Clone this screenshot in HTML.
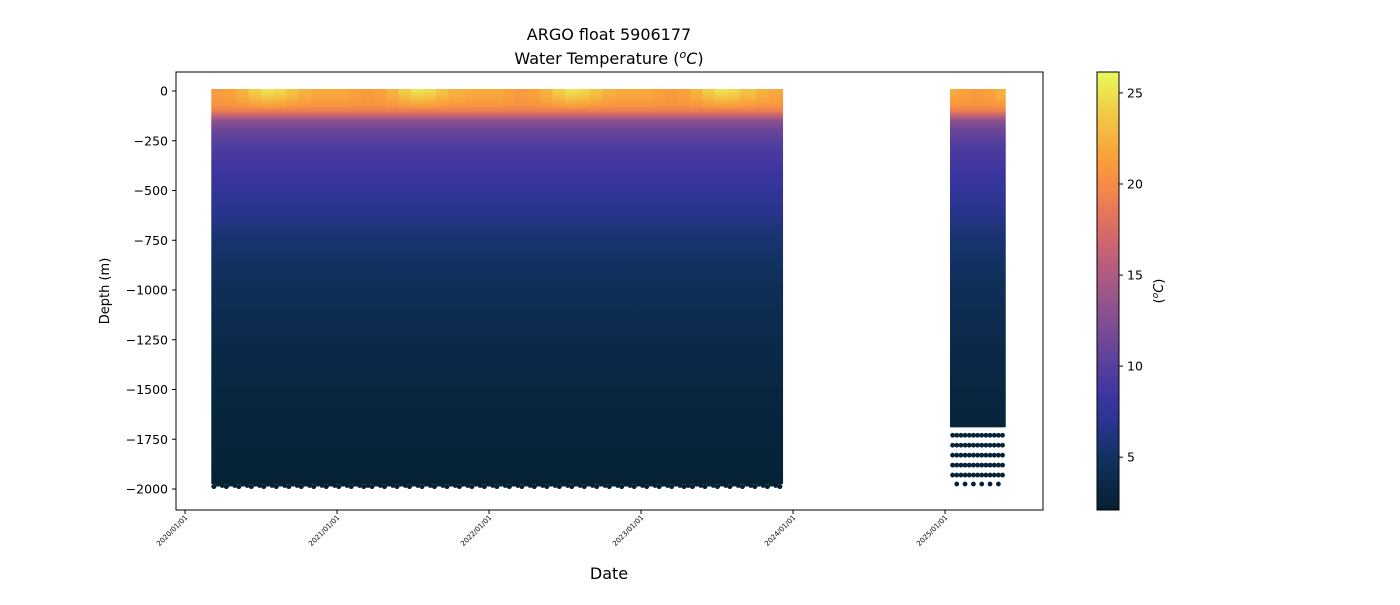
<!DOCTYPE html>
<html><head><meta charset="utf-8"><style>
body{margin:0;background:#fff;font-family:"Liberation Sans","DejaVu Sans",sans-serif}
svg text{font-family:"DejaVu Sans","Liberation Sans",sans-serif;fill:#000}
</style></head><body>
<svg id="c" width="1400" height="600" xmlns="http://www.w3.org/2000/svg">
<defs id="defs"></defs>
<text x="609" y="40" font-size="16" text-anchor="middle">ARGO float 5906177</text>
<text x="609" y="64" font-size="16" text-anchor="middle">Water Temperature (<tspan font-style="italic" font-size="11" dy="-6">o</tspan><tspan font-style="italic" dy="6">C</tspan>)</text>
<g id="plot"></g>
<rect x="176" y="72" width="867" height="438" fill="none" stroke="#000" stroke-width="1"/>
<g id="axes"></g>
<text x="0" y="0" font-size="13" text-anchor="middle" transform="translate(109,291) rotate(-90)">Depth (m)</text>
<text x="609" y="579" font-size="16" text-anchor="middle">Date</text>
<g id="cbar"></g>
<text x="0" y="0" font-size="13" text-anchor="middle" transform="translate(1163,291) rotate(-90)">(<tspan font-style="italic" font-size="9" dy="-5">o</tspan><tspan font-style="italic" dy="5">C</tspan>)</text>
</svg>
<script>
const NS="http://www.w3.org/2000/svg";
// data
const segStarts=[2020.19,2025.05];
const segEnds=[2023.92,2025.38];
const cycleDays=10;
const depthLevels=[0,-25,-50,-75,-100,-125,-150,-200,-250,-300,-400,-500,-600,-750,-900,-1000,-1250,-1500,-1750,-2000];
const meanTemps=[22,21.8,21.3,20.5,19,16,13,11,10,9.3,8.4,7.6,6.8,5.5,4.8,4.3,3.7,3.1,2.7,2.3];
const monthSurface=[22,21.5,21,21.5,22.5,24,25,24.5,23.5,22.5,22,22];
const segBottom=[-1975,-1690];
const dotDepths=[-1730,-1780,-1830,-1880,-1930];
const lastDotDepth=-1975;
const yTicks=[0,-250,-500,-750,-1000,-1250,-1500,-1750,-2000];
const xTickYears=[2020,2021,2022,2023,2024,2025];
const xTickLabels=["2020/01/01","2021/01/01","2022/01/01","2023/01/01","2024/01/01","2025/01/01"];
const cbTicks=[5,10,15,20,25];
const cmin=2.1,cmax=26.15;
const cmapStops=[[0,"#04202f"],[0.12,"#113262"],[0.2,"#2a3590"],[0.26,"#3c35a0"],[0.33,"#583f9c"],[0.45,"#8a5190"],[0.55,"#b45c80"],[0.65,"#dc6e62"],[0.72,"#f3834c"],[0.8,"#fa9e3c"],[0.9,"#f2c845"],[1,"#e8fa5b"]];
// scales
const y=d=>91+(-d)*398/2000;
const x=yr=>185+(yr-2020)*152;
function hex(h){return [1,3,5].map(i=>parseInt(h.substr(i,2),16));}
function cmap(v){let t=Math.max(0,Math.min(1,(v-cmin)/(cmax-cmin)));
 for(let i=1;i<cmapStops.length;i++){if(t<=cmapStops[i][0]){const a=cmapStops[i-1],b=cmapStops[i];const f=(t-a[0])/(b[0]-a[0]);const ca=hex(a[1]),cb=hex(b[1]);return "rgb("+ca.map((c,k)=>Math.round(c+(cb[k]-c)*f)).join(",")+")";}}
 return cmapStops[cmapStops.length-1][1];}
function el(t,a,p){const e=document.createElementNS(NS,t);for(const k in a)e.setAttribute(k,a[k]);p.appendChild(e);return e;}
const defs=document.getElementById('defs'),plot=document.getElementById('plot'),axes=document.getElementById('axes'),cbar=document.getElementById('cbar');
monthSurface.forEach((s,m)=>{
 const g=el('linearGradient',{id:'g'+m,gradientUnits:'userSpaceOnUse',x1:0,x2:0,y1:y(0),y2:y(-2000)},defs);
 depthLevels.forEach((d,i)=>{let v=meanTemps[i];if(i<4)v+= (s-meanTemps[0])*(1-i/4);
  el('stop',{offset:(-d/2000).toFixed(4),'stop-color':cmap(v)},g);});
});
const step=cycleDays/365.25;
segStarts.forEach((s0,si)=>{
 const bot=segBottom[si];
 for(let t=s0;t<=segEnds[si]+1e-6;t+=step){
  const m=Math.floor((t-Math.floor(t))*12)%12;
  const px=x(t);
  const r=el('rect',{x:px-2.6,y:y(0)-2,width:5.8,height:y(bot)-y(0)+2,fill:'url(#g'+m+')'},plot);
  
  
  if(si===0){const c=el('circle',{cx:px,cy:y(bot)+(Math.round(t*37)%3)*1.2,r:2.6,fill:cmap(2.3)},plot);
   
   }
  else{dotDepths.forEach(d=>{const c=el('circle',{cx:px,cy:y(d),r:2.4,fill:cmap(2.6)},plot);
    
    });}
 }
 if(si===1){for(let t=s0+step;t<=segEnds[si];t+=step*2){const c=el('circle',{cx:x(t),cy:y(lastDotDepth),r:2.4,fill:cmap(2.5)},plot);
  
  }}
});
yTicks.forEach(v=>{el('line',{x1:172,x2:176,y1:y(v),y2:y(v),stroke:'#000'},axes);
 const tx=el('text',{x:168,y:y(v)+4.5,'font-size':12.5,'text-anchor':'end'},axes);tx.textContent=v===0?'0':'\u2212'+(-v);
 
 });
xTickYears.forEach((yr,i)=>{const px=x(yr);el('line',{x1:px,x2:px,y1:510,y2:514,stroke:'#000'},axes);
 const tx=el('text',{x:0,y:0,'font-size':7,'text-anchor':'end',transform:`translate(${px+3},${518}) rotate(-45)`},axes);tx.textContent=xTickLabels[i];
 
 });
const cg=el('linearGradient',{id:'cbg',x1:0,x2:0,y1:1,y2:0},defs);
cmapStops.forEach(s=>el('stop',{offset:s[0],'stop-color':s[1]},cg));
el('rect',{x:1097,y:72,width:22,height:438,fill:'url(#cbg)',stroke:'#000','stroke-width':1},cbar);
const cy=v=>510-(v-cmin)/(cmax-cmin)*438;
cbTicks.forEach(v=>{el('line',{x1:1119,x2:1123,y1:cy(v),y2:cy(v),stroke:'#000'},cbar);
 const tx=el('text',{x:1127,y:cy(v)+4.5,'font-size':12.5},cbar);tx.textContent=v;
 
 });
</script>
</body></html>
